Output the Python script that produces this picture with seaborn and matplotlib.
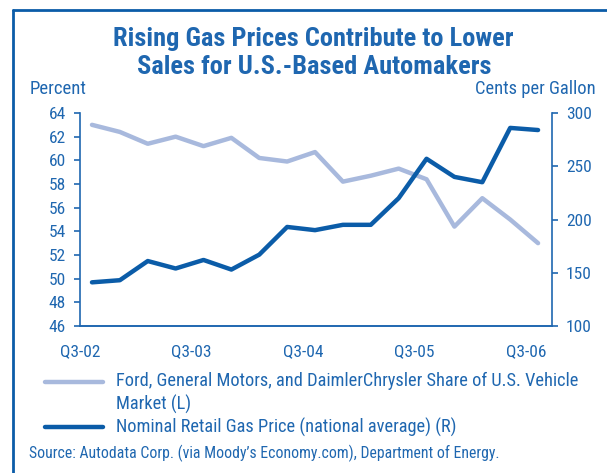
# ============================================================
# IMPORT LIBRARIES
# ============================================================

import numpy as np
import pandas as pd
import matplotlib
matplotlib.use("Agg")
import matplotlib.pyplot as plt
from matplotlib.lines import Line2D
import seaborn as sns

# ============================================================
# DATA
# ============================================================

quarter_index = list(range(17))

tick_labels = ["Q3-02", "Q3-03", "Q3-04", "Q3-05", "Q3-06"]

big3_share = [63.0, 62.4, 61.4, 62.0, 61.2, 61.9, 60.2, 59.9, 60.7,
              58.2, 58.7, 59.3, 58.4, 54.4, 56.8, 55.0, 53.0]

gas_price = [141, 143, 161, 154, 162, 153, 167, 193, 190,
             195, 195, 220, 257, 240, 235, 286, 284]

# ============================================================
# STYLE
# ============================================================

DARK = "#0b5ca8"
LIGHT = "#a8b9dd"
TEXT = "#1f67b0"

sns.set_style("white")
plt.rcParams["font.family"] = ["Roboto Condensed", "DejaVu Sans"]

df = pd.DataFrame({
    "q": quarter_index,
    "share": big3_share,
    "gas": gas_price
})

# ============================================================
# FIGURE
# ============================================================

fig = plt.figure(figsize=(6.07, 4.73), dpi=100)

ax = fig.add_axes([80 / 607, 1 - 326 / 473, 472 / 607, 213 / 473])
ax2 = ax.twinx()

sns.lineplot(data=df, x="q", y="share", ax=ax, color=LIGHT, linewidth=3.2)
sns.lineplot(data=df, x="q", y="gas", ax=ax2, color=DARK, linewidth=3.2)

ax.set_xlim(-0.43, 16.5)
ax.set_ylim(46, 64)
ax.set_yticks(np.arange(46, 65, 2))
ax2.set_ylim(100, 300)
ax2.set_yticks(np.arange(100, 301, 50))

ax.set_xticks([4 * k - 0.43 for k in range(5)])
ax.set_xticklabels(tick_labels)

for a in (ax, ax2):
    a.set_xlabel("")
    a.set_ylabel("")
    a.spines["top"].set_visible(False)
    for side in ("left", "right", "bottom"):
        a.spines[side].set_color(TEXT)
        a.spines[side].set_linewidth(1.2)
    a.tick_params(colors=TEXT, labelcolor=TEXT, labelsize=12.5,
                  length=4, width=1.2, direction="out", pad=6)

ax.tick_params(axis="x", direction="inout", length=6, pad=10)
ax2.spines["left"].set_visible(False)
ax.spines["right"].set_visible(False)

# ============================================================
# TEXTS
# ============================================================

fig.text(313 / 607, 1 - 39 / 473, "Rising Gas Prices Contribute to Lower",
         ha="center", va="center", fontsize=19, fontweight="bold", color=TEXT)
fig.text(314 / 607, 1 - 67 / 473, "Sales for U.S.-Based Automakers",
         ha="center", va="center", fontsize=19, fontweight="bold", color=TEXT)

fig.text(30 / 607, 1 - 89 / 473, "Percent", ha="left", va="center",
         fontsize=13.5, color=TEXT)
fig.text(596 / 607, 1 - 89 / 473, "Cents per Gallon", ha="right",
         va="center", fontsize=13.3, color=TEXT)

# legend drawn by hand
fig.add_artist(Line2D([45 / 607, 103 / 607], [1 - 382 / 473, 1 - 382 / 473],
                      color=LIGHT, linewidth=3.2))
fig.add_artist(Line2D([45 / 607, 103 / 607], [1 - 427 / 473, 1 - 427 / 473],
                      color=DARK, linewidth=3.2))
fig.text(116 / 607, 1 - 381 / 473,
         "Ford, General Motors, and DaimlerChrysler Share of U.S. Vehicle",
         ha="left", va="center", fontsize=13.2, color=TEXT)
fig.text(116 / 607, 1 - 404 / 473, "Market (L)",
         ha="left", va="center", fontsize=13.2, color=TEXT)
fig.text(116 / 607, 1 - 427 / 473,
         "Nominal Retail Gas Price (national average) (R)",
         ha="left", va="center", fontsize=13.2, color=TEXT)

fig.text(29 / 607, 1 - 453 / 473,
         "Source: Autodata Corp. (via Moody\u2019s Economy.com), Department of Energy.",
         ha="left", va="center", fontsize=11.3, color=TEXT)

# frame
fig.add_artist(Line2D([13 / 607, 13 / 607], [0, 1 - 10 / 473],
                      color=DARK, linewidth=2))
fig.add_artist(Line2D([13 / 607, 1], [1 - 10 / 473, 1 - 10 / 473],
                      color=DARK, linewidth=2))

fig.savefig("out.png", dpi=100)
